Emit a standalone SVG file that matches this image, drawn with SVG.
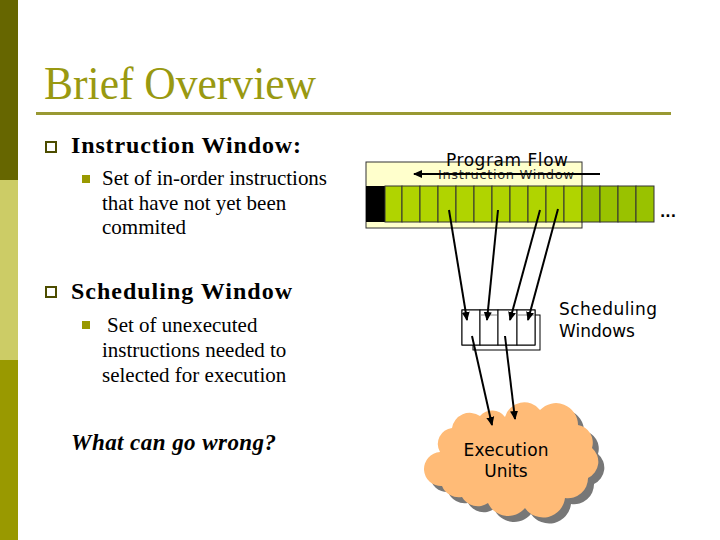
<svg xmlns="http://www.w3.org/2000/svg" width="720" height="540" viewBox="0 0 720 540">
<defs>
<marker id="ah" markerWidth="10" markerHeight="10" refX="8" refY="5" orient="auto" markerUnits="userSpaceOnUse">
<path d="M0,1 L9,5 L0,9 Z" fill="#000"/>
</marker>
<style>
.serif{font-family:"Liberation Serif","Times New Roman",serif;fill:#000}
.sans{font-family:"DejaVu Sans",Verdana,sans-serif;fill:#000}
.conn{stroke:#000;stroke-width:2;fill:none;marker-end:url(#ah)}
.cellIn{fill:#b0d400;stroke:#333;stroke-width:1}
.cellOut{fill:#99c200;stroke:#333;stroke-width:1}
.sw{fill:#fff;stroke:#000;stroke-width:1}
</style>
</defs>
<rect width="720" height="540" fill="#fff"/>
<g id="sidebar">
<rect x="0" y="0" width="18" height="180" fill="#666600"/>
<rect x="0" y="180" width="18" height="180" fill="#cccc66"/>
<rect x="0" y="360" width="18" height="180" fill="#999900"/>
</g>
<g id="title">
<text x="44" y="99" class="serif" font-size="47" style="fill:#999911" textLength="272" lengthAdjust="spacingAndGlyphs">Brief Overview</text>
<rect x="36" y="112" width="635" height="3" fill="#999933"/>
</g>
<g id="bullets">
<rect x="46" y="142" width="10" height="10" fill="#fff" stroke="#4d4d00" stroke-width="2"/>
<text x="71" y="153" class="serif" font-size="24" font-weight="bold" textLength="230">Instruction Window:</text>
<rect x="82" y="175" width="8" height="8" fill="#999900"/>
<text x="102" y="185" class="serif" font-size="21" textLength="225">Set of in-order instructions</text>
<text x="102" y="210" class="serif" font-size="21">that have not yet been</text>
<text x="102" y="234" class="serif" font-size="21">commited</text>
<rect x="46" y="287" width="10" height="10" fill="#fff" stroke="#4d4d00" stroke-width="2"/>
<text x="71" y="299" class="serif" font-size="24" font-weight="bold" textLength="221">Scheduling Window</text>
<rect x="82" y="321" width="8" height="8" fill="#999900"/>
<text x="107" y="332" class="serif" font-size="21">Set of unexecuted</text>
<text x="102" y="357" class="serif" font-size="21">instructions needed to</text>
<text x="102" y="382" class="serif" font-size="21">selected for execution</text>
<text x="71" y="450" class="serif" font-size="23" font-weight="bold" font-style="italic" textLength="205">What can go wrong?</text>
</g>
<g id="instruction-window">
<rect x="366" y="162" width="216" height="66" fill="#ffffcc" stroke="#333" stroke-width="1"/>
<rect x="366" y="186" width="19" height="36" fill="#000"/>
<rect x="385" y="186" width="17" height="36" class="cellIn"/>
<rect x="402" y="186" width="18" height="36" class="cellIn"/>
<rect x="420" y="186" width="18" height="36" class="cellIn"/>
<rect x="438" y="186" width="18" height="36" class="cellIn"/>
<rect x="456" y="186" width="18" height="36" class="cellIn"/>
<rect x="474" y="186" width="18" height="36" class="cellIn"/>
<rect x="492" y="186" width="18" height="36" class="cellIn"/>
<rect x="510" y="186" width="18" height="36" class="cellIn"/>
<rect x="528" y="186" width="18" height="36" class="cellIn"/>
<rect x="546" y="186" width="18" height="36" class="cellIn"/>
<rect x="564" y="186" width="18" height="36" class="cellIn"/>
<rect x="582" y="186" width="18" height="36" class="cellOut"/>
<rect x="600" y="186" width="18" height="36" class="cellOut"/>
<rect x="618" y="186" width="18" height="36" class="cellOut"/>
<rect x="636" y="186" width="18" height="36" class="cellOut"/>
<text x="660" y="217" class="sans" font-size="14" font-weight="bold">...</text>
<text x="507" y="166" class="sans" font-size="17" text-anchor="middle" textLength="122">Program Flow</text>
<text x="506" y="179" class="sans" font-size="13" text-anchor="middle" style="fill:#333" textLength="136">Instruction Window</text>
</g>
<g id="scheduling-windows">
<rect x="473" y="315" width="67" height="35" class="sw"/>
<rect x="462" y="310" width="73" height="35" fill="none" stroke="#000" stroke-width="1"/>
<rect x="462" y="310" width="18" height="35" class="sw"/>
<rect x="480" y="310" width="18" height="35" class="sw"/>
<rect x="498" y="310" width="19" height="35" class="sw"/>
<rect x="517" y="310" width="18" height="35" class="sw"/>
<line x1="481" y1="315" x2="497" y2="315" stroke="#888" stroke-width="1"/>
<line x1="518" y1="315" x2="534" y2="315" stroke="#888" stroke-width="1"/>
<text x="559" y="315" class="sans" font-size="17" textLength="98">Scheduling</text>
<text x="559" y="337" class="sans" font-size="17">Windows</text>
</g>
<g id="execution-units">
<path transform="translate(6,6)" fill="#777" d="M440,452 A16,16 0 0 1 452,428 A18,18 0 0 1 480,416 A16,16 0 0 1 505,417 A20,20 0 0 1 540,410 A22,22 0 0 1 578,425 A18,18 0 0 1 592,448 A18,18 0 0 1 588,478 A20,20 0 0 1 565,498 A22,22 0 0 1 525,508 A22,22 0 0 1 488,503 A18,18 0 0 1 462,497 A18,18 0 0 1 442,486 A16,16 0 0 1 440,452 Z"/>
<path fill="#ffbb77" d="M440,452 A16,16 0 0 1 452,428 A18,18 0 0 1 480,416 A16,16 0 0 1 505,417 A20,20 0 0 1 540,410 A22,22 0 0 1 578,425 A18,18 0 0 1 592,448 A18,18 0 0 1 588,478 A20,20 0 0 1 565,498 A22,22 0 0 1 525,508 A22,22 0 0 1 488,503 A18,18 0 0 1 462,497 A18,18 0 0 1 442,486 A16,16 0 0 1 440,452 Z"/>
<text x="506" y="456" class="sans" font-size="17" text-anchor="middle" textLength="85">Execution</text>
<text x="506" y="477" class="sans" font-size="17" text-anchor="middle">Units</text>
</g>
<g id="connectors">
<line x1="600" y1="174" x2="414" y2="174" class="conn"/>
<line x1="449" y1="210" x2="467" y2="320" class="conn"/>
<line x1="498" y1="210" x2="487" y2="320" class="conn"/>
<line x1="540" y1="210" x2="510" y2="320" class="conn"/>
<line x1="558" y1="209" x2="528" y2="320" class="conn"/>
<line x1="472" y1="336" x2="492" y2="425" class="conn"/>
<line x1="505" y1="336" x2="515" y2="419" class="conn"/>
</g>
</svg>
